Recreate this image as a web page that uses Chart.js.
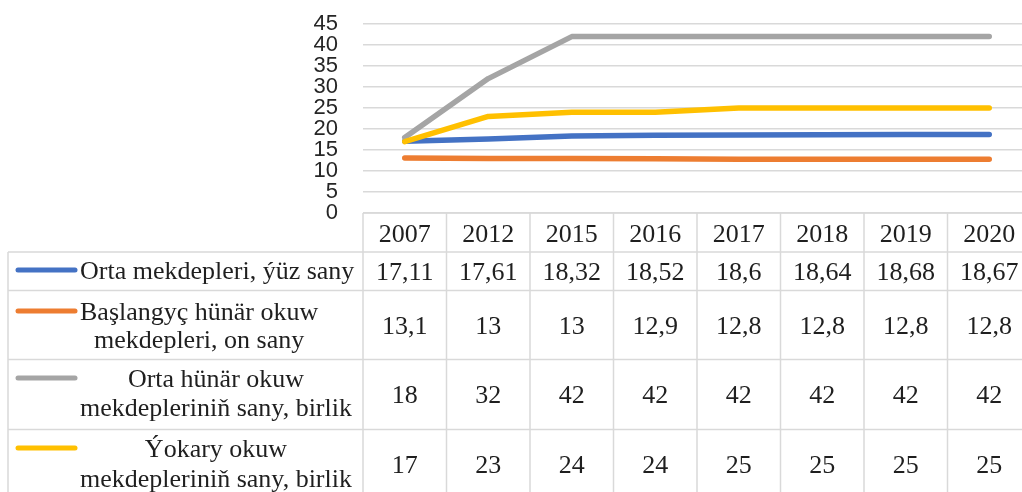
<!DOCTYPE html>
<html>
<head>
<meta charset="utf-8">
<script src="https://cdn.jsdelivr.net/npm/chart.js@4.4.1/dist/chart.umd.min.js"></script>
<style>
  html, body { margin: 0; padding: 0; background: #fff; overflow: hidden; }
  #wrap { width: 1034px; height: 492px; position: relative; }
</style>
</head>
<body>
<div id="wrap"><canvas id="myChart"></canvas></div>
<script>
var years = ['2007', '2012', '2015', '2016', '2017', '2018', '2019', '2020'];
var ortaMekdep = [17.11, 17.61, 18.32, 18.52, 18.6, 18.64, 18.68, 18.67];
var baslangyc = [13.1, 13, 13, 12.9, 12.8, 12.8, 12.8, 12.8];
var ortaHunar = [18, 32, 42, 42, 42, 42, 42, 42];
var yokary = [17, 23, 24, 24, 25, 25, 25, 25];
var seriesNames = [
  ['Orta mekdepleri, ýüz sany'],
  ['Başlangyç hünär okuw', 'mekdepleri, on sany'],
  ['Orta hünär okuw', 'mekdepleriniň sany, birlik'],
  ['Ýokary okuw', 'mekdepleriniň sany, birlik']
];
var colors = ['#4472C4', '#ED7D31', '#A5A5A5', '#FFC000'];
var allValues = [ortaMekdep, baslangyc, ortaHunar, yokary];

// data table under the plot, columns follow the x scale
var rows = [
  { top: 252, bottom: 290.5, valueBase: 280, textBase: [279] },
  { top: 290.5, bottom: 359.5, valueBase: 334, textBase: [320, 348] },
  { top: 359.5, bottom: 429.5, valueBase: 403, textBase: [387, 416] },
  { top: 429.5, bottom: 499, valueBase: 473, textBase: [457, 487] }
];

var dataTable = {
  id: 'dataTable',
  afterDraw: function(chart) {
    var ctx = chart.ctx;
    var x = chart.scales.x;
    var area = chart.chartArea;
    var colW = (x.right - x.left) / years.length;
    var tableLeft = 8;
    var headTop = area.bottom;
    var bottom = 499;

    ctx.save();
    ctx.strokeStyle = '#d9d9d9';
    ctx.lineWidth = 1.5;
    ctx.beginPath();
    ctx.moveTo(x.left, headTop); ctx.lineTo(x.right, headTop);
    rows.forEach(function(r) {
      ctx.moveTo(tableLeft, r.top); ctx.lineTo(x.right, r.top);
    });
    ctx.moveTo(tableLeft, bottom); ctx.lineTo(x.right, bottom);
    ctx.moveTo(tableLeft, rows[0].top); ctx.lineTo(tableLeft, bottom);
    for (var i = 0; i <= years.length; i++) {
      var bx = x.left + i * colW;
      ctx.moveTo(bx, headTop); ctx.lineTo(bx, bottom);
    }
    ctx.stroke();

    ctx.fillStyle = '#1f1f1f';
    ctx.font = '26px "Liberation Serif", "Times New Roman", serif';
    ctx.textAlign = 'center';
    ctx.textBaseline = 'alphabetic';
    years.forEach(function(y, i) {
      ctx.fillText(y, x.getPixelForValue(i), 242);
    });

    rows.forEach(function(r, s) {
      allValues[s].forEach(function(v, i) {
        ctx.fillText(String(v).replace('.', ','), x.getPixelForValue(i), r.valueBase);
      });

      // legend key
      var lines = seriesNames[s];
      ctx.strokeStyle = colors[s];
      ctx.lineWidth = 5;
      ctx.lineCap = 'round';
      ctx.beginPath();
      ctx.moveTo(18, r.textBase[0] - 9);
      ctx.lineTo(75, r.textBase[0] - 9);
      ctx.stroke();

      var maxW = 0;
      lines.forEach(function(t) { maxW = Math.max(maxW, ctx.measureText(t).width); });
      lines.forEach(function(t, k) {
        ctx.fillText(t, 80 + maxW / 2, r.textBase[k]);
      });
    });
    ctx.restore();
  }
};

var datasets = allValues.map(function(vals, i) {
  return {
    label: seriesNames[i].join(' '),
    data: vals,
    borderColor: colors[i],
    backgroundColor: colors[i],
    borderWidth: 5.5,
    borderCapStyle: 'round',
    borderJoinStyle: 'round',
    pointRadius: 0,
    tension: 0,
    order: 3 - i
  };
});

new Chart(document.getElementById('myChart'), {
  type: 'line',
  data: { labels: years, datasets: datasets },
  options: {
    responsive: true,
    maintainAspectRatio: false,
    animation: false,
    layout: { padding: { top: 24, bottom: 279, right: 3, left: 0 } },
    plugins: {
      legend: { display: false },
      tooltip: { enabled: false }
    },
    scales: {
      x: { display: false, offset: true },
      y: {
        min: 0,
        max: 45,
        ticks: {
          stepSize: 5,
          autoSkip: false,
          padding: 25,
          color: '#262626',
          font: { family: '"Liberation Sans", Arial, sans-serif', size: 22 }
        },
        grid: { color: '#d9d9d9', lineWidth: 1.5, drawTicks: false },
        border: { display: false },
        afterFit: function(scale) {
          scale.width = 363;
          scale.paddingTop = 0;
          scale.paddingBottom = 0;
        }
      }
    }
  },
  plugins: [dataTable]
});
</script>
</body>
</html>
